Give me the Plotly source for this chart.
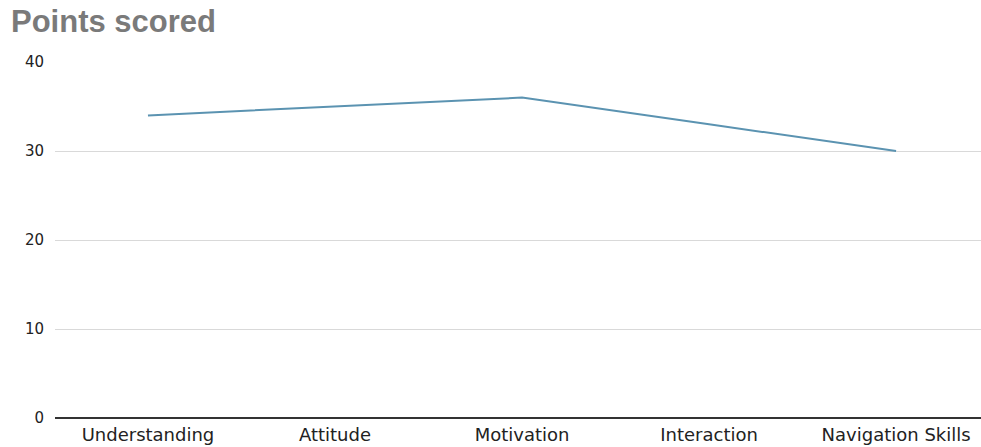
import plotly.graph_objects as go

categories = ["Understanding", "Attitude", "Motivation", "Interaction", "Navigation Skills"]
points = [34, 35, 36, 33, 30]
y_ticks = [0, 10, 20, 30, 40]

fig = go.Figure()
fig.add_trace(go.Scatter(
    x=list(range(len(categories))), y=points, mode="lines",
    line=dict(color="#5b93b1", width=2), hoverinfo="skip", showlegend=False,
))

fig.update_layout(
    width=981, height=447,
    margin=dict(l=55, r=0, t=62, b=29),
    paper_bgcolor="white", plot_bgcolor="white",
    font=dict(family="DejaVu Sans, Arial, sans-serif", size=13, color="#222222"),
    title=dict(text="<b>Points scored</b>", x=11/981, xref="container", xanchor="left",
               y=1 - 21/447, yref="container", yanchor="middle",
               font=dict(size=31, color="#7a7a7a", family="Liberation Sans, Arial, sans-serif")),
)

fig.update_xaxes(
    tickmode="array", tickvals=list(range(len(categories))), ticktext=categories,
    range=[-0.497, 4.454], showgrid=False, zeroline=False,
    showline=False, ticks="", ticklabelstandoff=4,
    tickfont=dict(size=18, color="#222222", family="DejaVu Sans, Arial, sans-serif"),
)
fig.update_yaxes(
    range=[0, 40], tickmode="array", tickvals=y_ticks,
    showgrid=True, gridcolor="#d9d9d9", gridwidth=1,
    zeroline=True, zerolinecolor="#333333", zerolinewidth=1.5,
    showline=False, ticks="", ticklabelstandoff=10,
    tickfont=dict(size=15, color="#222222", family="DejaVu Sans, Arial, sans-serif"),
)

fig.write_html("out.html")
